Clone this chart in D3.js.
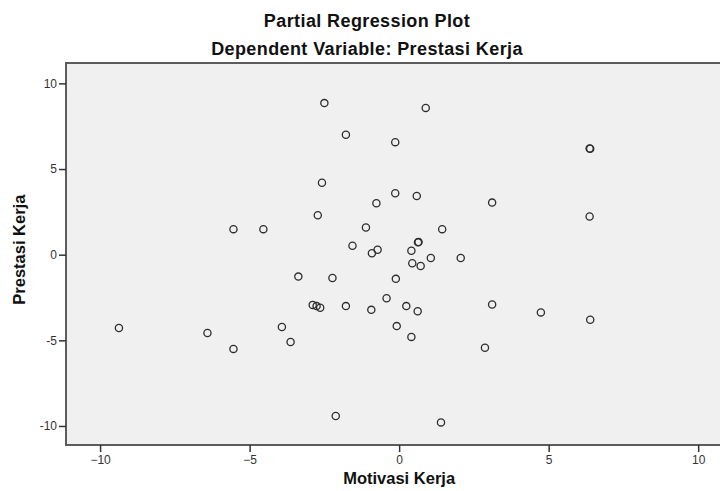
<!DOCTYPE html>
<html>
<head>
<meta charset="utf-8">
<script src="https://cdn.jsdelivr.net/npm/d3@7"></script>
<style>
  html, body { margin: 0; padding: 0; background: #ffffff; }
  svg { display: block; }
  text { font-family: "Liberation Sans", Arial, sans-serif; }
</style>
</head>
<body>
<svg id="chart" width="720" height="491"></svg>
<script>
// ---- data ----
const titleText = "Partial Regression Plot";
const subtitleText = "Dependent Variable: Prestasi Kerja";
const xLabel = "Motivasi Kerja";
const yLabel = "Prestasi Kerja";
const xTicks = [-10, -5, 0, 5, 10];
const yTicks = [-10, -5, 0, 5, 10];

const motivasi = [
  -2.50, -1.78, -0.13, -2.58, -0.13, -0.76, -2.72, -5.54, -4.54, -1.11,
  -1.56, -0.91, -0.72,  0.89,  6.37,  6.39,  0.59,  3.11,  6.37,  1.44,
   0.63,  0.65,  0.41,  1.06,  2.06,  0.44,  0.72, -0.11, -0.42,  0.24,
   0.62,  3.11,  4.74,  6.39, -0.08,  0.41,  2.87,  1.40, -3.37, -2.23,
  -2.89, -2.76, -2.64, -1.78, -0.93, -9.37, -6.41, -3.92, -3.63, -5.54,
  -2.12
];
const prestasi = [
   8.85,  7.00,  6.57,  4.20,  3.59,  3.00,  2.30,  1.49,  1.49,  1.59,
   0.52,  0.08,  0.29,  8.57,  6.20,  6.18,  3.43,  3.04,  2.23,  1.49,
   0.72,  0.74,  0.23, -0.19, -0.19, -0.50, -0.66, -1.41, -2.54, -3.00,
  -3.30, -2.91, -3.37, -3.80, -4.17, -4.80, -5.43, -9.79, -1.28, -1.36,
  -2.93, -3.00, -3.10, -3.00, -3.22, -4.28, -4.57, -4.22, -5.10, -5.50,
  -9.42
];

// ---- layout ----
const W = 720, H = 491;
const plot = { left: 66, right: 720, top: 63, bottom: 445 };

const x = d3.scaleLinear().domain([-11.14, 10.73]).range([plot.left, plot.right]);
const y = d3.scaleLinear().domain([-11.11, 11.19]).range([plot.bottom, plot.top]);

const svg = d3.select("#chart");

// plot background
svg.append("rect")
  .attr("x", plot.left).attr("y", plot.top)
  .attr("width", plot.right - plot.left + 5)
  .attr("height", plot.bottom - plot.top)
  .attr("fill", "#f0f0f0")
  .attr("stroke", "#5c5c5c")
  .attr("stroke-width", 2);

// points
const pts = motivasi.map((v, i) => ({ x: v, y: prestasi[i] }));
svg.append("g").selectAll("circle")
  .data(pts).enter().append("circle")
  .attr("cx", d => x(d.x))
  .attr("cy", d => y(d.y))
  .attr("r", 3.6)
  .attr("fill", "none")
  .attr("stroke", "#2e2e2e")
  .attr("stroke-width", 1.3);

// axes
const xAxis = svg.append("g")
  .attr("transform", `translate(0,${plot.bottom})`)
  .call(d3.axisBottom(x).tickValues(xTicks).tickSize(7).tickPadding(3).tickFormat(d3.format("d")));
const yAxis = svg.append("g")
  .attr("transform", `translate(${plot.left},0)`)
  .call(d3.axisLeft(y).tickValues(yTicks).tickSize(7).tickPadding(2).tickFormat(d3.format("d")));

[xAxis, yAxis].forEach(g => {
  g.select(".domain").remove();
  g.selectAll(".tick line").attr("stroke", "#333").attr("stroke-width", 1.5);
  g.selectAll(".tick text")
    .attr("fill", "#333")
    .style("font-family", "'Liberation Sans', Arial, sans-serif")
    .style("font-size", "12px");
});
yAxis.selectAll(".tick text").text(d => d.toString().replace("-", "-"));

// titles
svg.append("text")
  .attr("x", 367).attr("y", 27)
  .attr("text-anchor", "middle")
  .style("font-size", "18px").style("font-weight", "bold")
  .style("letter-spacing", "0.4px")
  .attr("fill", "#111")
  .text(titleText);

svg.append("text")
  .attr("x", 367).attr("y", 55)
  .attr("text-anchor", "middle")
  .style("font-size", "18px").style("font-weight", "bold")
  .style("letter-spacing", "0.4px")
  .attr("fill", "#111")
  .text(subtitleText);

// axis titles
svg.append("text")
  .attr("x", (x(-10) + x(10)) / 2).attr("y", 484)
  .attr("text-anchor", "middle")
  .style("font-size", "16.5px").style("font-weight", "bold")
  .attr("fill", "#111")
  .text(xLabel);

svg.append("text")
  .attr("transform", `translate(25,${y(0) - 5}) rotate(-90)`)
  .attr("text-anchor", "middle")
  .style("font-size", "16.5px").style("font-weight", "bold")
  .attr("fill", "#111")
  .text(yLabel);
</script>
</body>
</html>
